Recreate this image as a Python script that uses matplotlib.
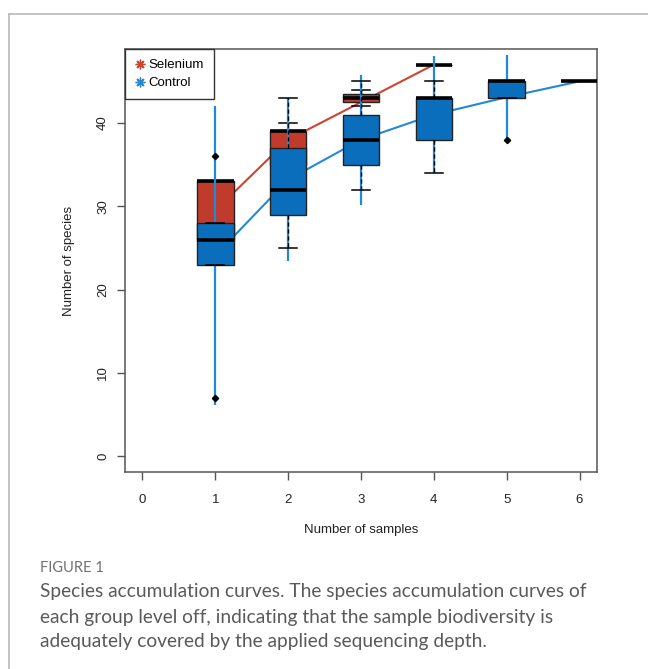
import matplotlib
matplotlib.use("Agg")
import matplotlib.pyplot as plt
from matplotlib.lines import Line2D

# Selenium group (red)
sel_x = [1, 2, 3, 4]
sel_mean = [29.5, 38.0, 42.5, 47.0]
sel_q1 = [26, 35, 42.5, 47]
sel_med = [33, 39, 43, 47]
sel_q3 = [33, 39, 43.5, 47]
sel_lo = [25, 33, 42, 47]
sel_hi = [33, 40, 44, 47]

# Control group (blue)
ctl_x = [1, 2, 3, 4, 5, 6]
ctl_mean = [24.1, 33.2, 38.0, 41.0, 43.1, 45.0]
ctl_ci_lo = [6.2, 23.4, 30.2, 34.0, 38.0, 45.0]
ctl_ci_hi = [42.0, 43.0, 45.8, 48.0, 48.2, 45.0]
ctl_q1 = [23, 29, 35, 38, 43, 45]
ctl_med = [26, 32, 38, 43, 45, 45]
ctl_q3 = [28, 37, 41, 43, 45, 45]
ctl_lo = [23, 25, 32, 34, 43, 45]
ctl_hi = [28, 43, 45, 45, 45, 45]
ctl_out = [[36, 7], [], [], [], [38], []]

x_ticks = [0, 1, 2, 3, 4, 5, 6]
y_ticks = [0, 10, 20, 30, 40]

caption_head = "FIGURE 1"
caption_lines = [
    "Species accumulation curves. The species accumulation curves of",
    "each group level off, indicating that the sample biodiversity is",
    "adequately covered by the applied sequencing depth.",
]

red_line = "#cf4330"
red_box = "#c03b2b"
blue_line = "#2389d6"
blue_box = "#0a6ebd"

plt.rcParams['font.family'] = ['Liberation Sans', 'DejaVu Sans']

W, H = 648, 669
fig = plt.figure(figsize=(W / 100, H / 100), dpi=100)

# axes placed by pixel box
left, right, top, bottom = 125, 597, 49, 472
ax = fig.add_axes([left / W, 1 - bottom / H, (right - left) / W, (bottom - top) / H])


def make_stats(q1, med, q3, lo, hi, out):
    stats = []
    for i in range(len(med)):
        stats.append({'q1': q1[i], 'med': med[i], 'q3': q3[i],
                      'whislo': lo[i], 'whishi': hi[i], 'fliers': out[i]})
    return stats


common = dict(widths=0.5, patch_artist=True, manage_ticks=False,
              whiskerprops=dict(color='black', linestyle=(0, (3, 2)), lw=1),
              capprops=dict(color='black', lw=1.1),
              medianprops=dict(color='black', lw=2.6, solid_capstyle='butt'),
              flierprops=dict(marker='D', markersize=3.2, markerfacecolor='black',
                              markeredgecolor='black'))

# selenium
ax.plot(sel_x, sel_mean, color=red_line, lw=1.5, zorder=1)
ax.bxp(make_stats(sel_q1, sel_med, sel_q3, sel_lo, sel_hi, [[]] * 4),
       positions=sel_x,
       boxprops=dict(facecolor=red_box, edgecolor='#222222', lw=1),
       zorder=2, **common)

# control
ax.plot(ctl_x, ctl_mean, color=blue_line, lw=1.5, zorder=3)
ax.vlines(ctl_x, ctl_ci_lo, ctl_ci_hi, color=blue_line, lw=1.6, zorder=3)
ax.bxp(make_stats(ctl_q1, ctl_med, ctl_q3, ctl_lo, ctl_hi, ctl_out),
       positions=ctl_x,
       boxprops=dict(facecolor=blue_box, edgecolor='#222222', lw=1),
       zorder=4, **common)

ax.set_xlim(-0.24, 6.24)
ax.set_ylim(-1.88, 48.88)
ax.set_xticks(x_ticks)
ax.set_yticks(y_ticks)
ax.set_yticklabels([str(v) for v in y_ticks], rotation=90, va='center')
for s in ax.spines.values():
    s.set_color('#555555')
    s.set_linewidth(1.1)
ax.tick_params(length=6, width=1, color='#555555', labelsize=9.5,
               labelcolor='#222222')
ax.tick_params(axis='x', pad=10)
ax.tick_params(axis='y', pad=5.5)

ax.set_xlabel("Number of samples", fontsize=9.5, color='#222222')
ax.set_ylabel("Number of species", fontsize=9.5, color='#222222')
ax.xaxis.set_label_coords(0.5, (bottom - 530) / (bottom - top))
ax.xaxis.label.set_va('center')
ax.yaxis.set_label_coords((69 - left) / (right - left), 0.5)
ax.yaxis.label.set_va('center')

handles = [Line2D([], [], ls='none', marker=(8, 2, 0), markersize=7, mew=1, color=red_line),
           Line2D([], [], ls='none', marker=(8, 2, 0), markersize=7, mew=1, color=blue_line)]
leg = ax.legend(handles, ["Selenium", "Control"], loc='upper left', bbox_to_anchor=(0, 1),
                borderaxespad=0, fancybox=False, edgecolor='#333333', fontsize=9.5,
                handlelength=0.7, handletextpad=0.35, borderpad=0.75, labelspacing=0.45,
                framealpha=1)
leg.get_frame().set_linewidth(1)

# outer frame of the figure panel
fig.add_artist(Line2D([9 / W, 1], [1 - 14 / H, 1 - 14 / H], color='#bdbdbd', lw=1.3))
fig.add_artist(Line2D([9 / W, 9 / W], [1 - 14 / H, 0], color='#bdbdbd', lw=1.3))

fig.text(40 / W, 1 - 568 / H, caption_head, family=['Lato', 'DejaVu Sans'],
         fontsize=10.5, color='#707070', va='center')
for i, line in enumerate(caption_lines):
    fig.text(40 / W, 1 - (592 + 25 * i) / H, line, family=['Lato', 'DejaVu Sans'],
             fontsize=13.8, color='#5a5a5a', va='center')

fig.savefig('out.png', dpi=100)
